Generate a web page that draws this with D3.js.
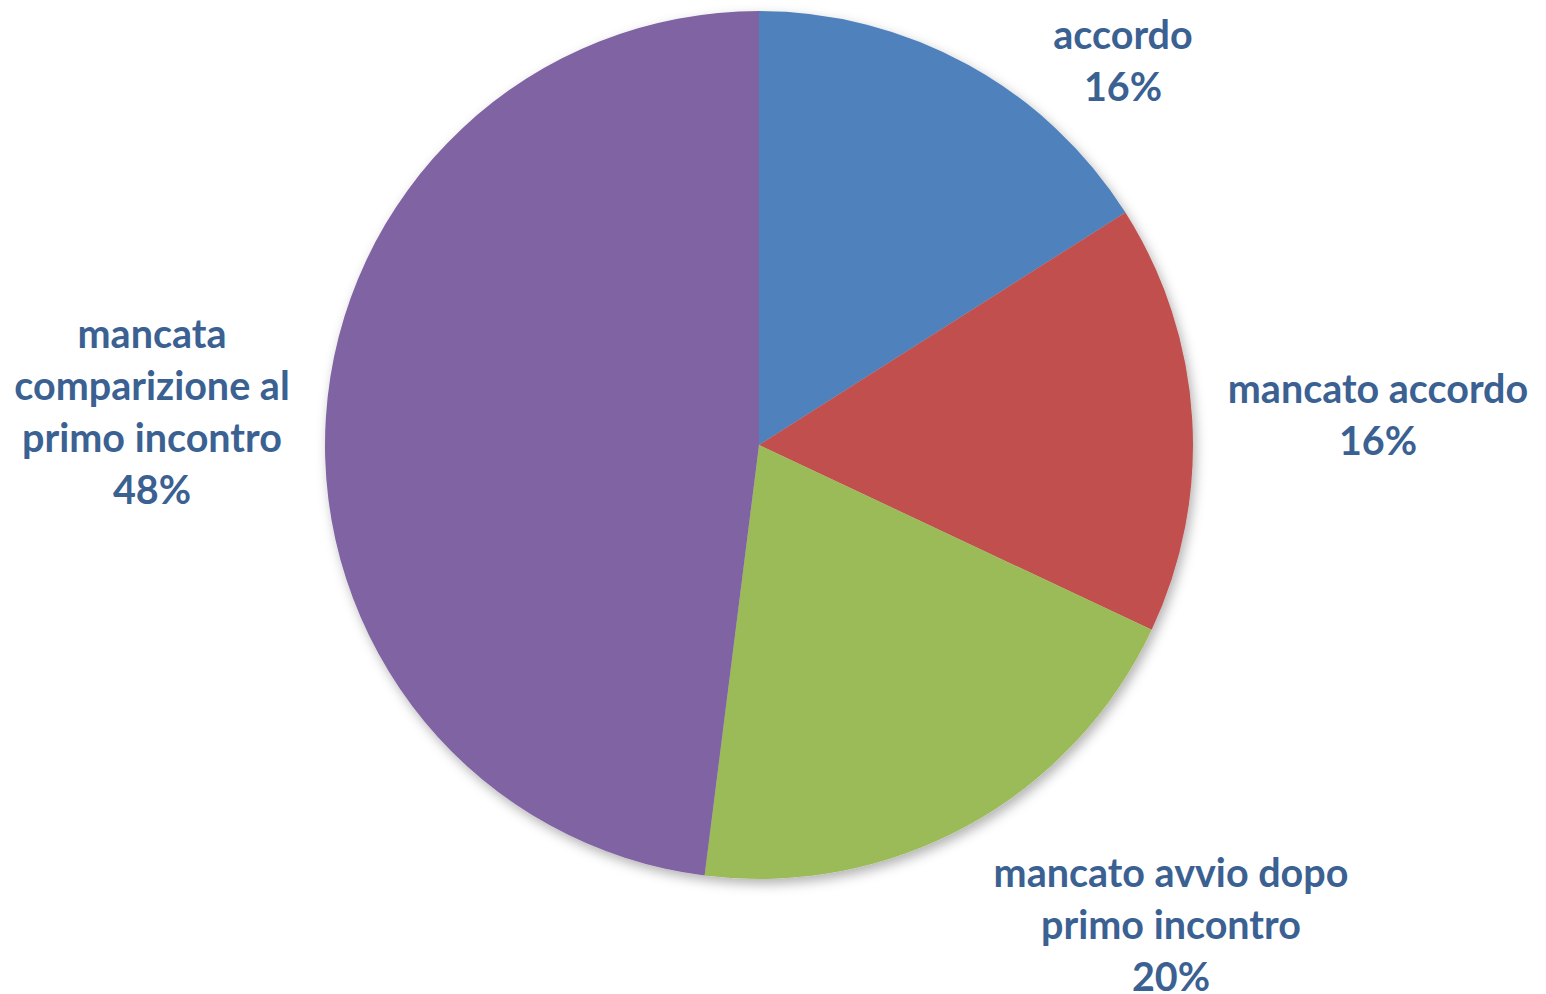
<!DOCTYPE html>
<html><head><meta charset="utf-8">
<script src="https://cdn.jsdelivr.net/npm/d3@7"></script>
<style>html,body{margin:0;padding:0;background:#fff;overflow:hidden}</style>
</head><body>
<svg id="chart" width="1546" height="994"></svg>
<script>
const categories = ["accordo", "mancato accordo", "mancato avvio dopo primo incontro", "mancata comparizione al primo incontro"];
const values = [16, 16, 20, 48];
const colors = ["#4F81BD", "#C0504D", "#9BBB59", "#8064A2"];
const labelLines = [
  ["accordo"],
  ["mancato accordo"],
  ["mancato avvio dopo", "primo incontro"],
  ["mancata", "comparizione al", "primo incontro"]
];

// layout
const W = 1546, H = 994;
const cx = 759, cy = 445, R = 434;
const labelAnchors = [[1123, 35], [1378, 389], [1171, 873], [152, 334]]; // center of first line
const lineH = 52;

const svg = d3.select("#chart");
const defs = svg.append("defs");
const f = defs.append("filter").attr("id", "sh").attr("x", "-10%").attr("y", "-10%").attr("width", "120%").attr("height", "120%");
f.append("feDropShadow").attr("dx", 3).attr("dy", 5).attr("stdDeviation", 6).attr("flood-color", "#000").attr("flood-opacity", 0.3);

const pie = d3.pie().sort(null).value(d => d);
const arcs = pie(values);
const arc = d3.arc().innerRadius(0).outerRadius(R);

const g = svg.append("g").attr("transform", `translate(${cx},${cy})`);
g.append("g").attr("filter", "url(#sh)")
  .selectAll("path").data(arcs).join("path")
  .attr("d", arc)
  .attr("fill", (d, i) => colors[i]);

const total = d3.sum(values);
const fmt = d3.format(".0%");
const lg = svg.append("g")
  .attr("font-family", "Lato, 'Open Sans', sans-serif")
  .attr("font-weight", "bold")
  .attr("font-size", 39.5)
  .attr("fill", "#3A6192")
  .attr("text-anchor", "middle");
arcs.forEach((a, i) => {
  const lines = labelLines[i].concat([fmt(a.value / total)]);
  const [x, y] = labelAnchors[i];
  const t = lg.append("text").attr("x", x).attr("y", y);
  lines.forEach((l, j) => {
    t.append("tspan").attr("x", x).attr("y", y + j * lineH).attr("dy", "0.35em").text(l);
  });
});
</script>
</body></html>
